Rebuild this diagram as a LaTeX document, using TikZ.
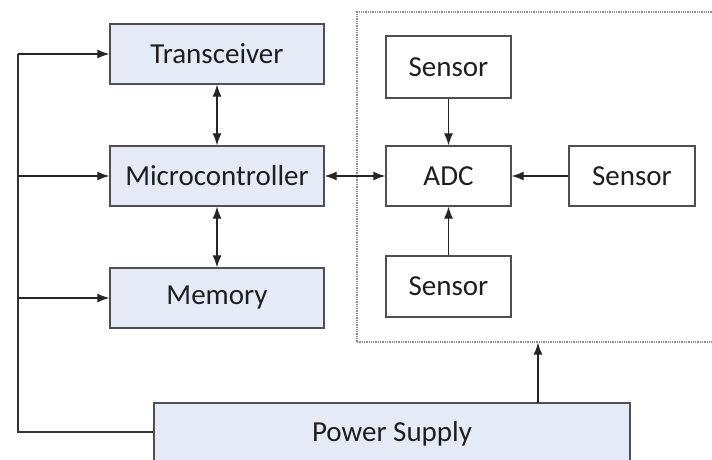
\documentclass[tikz,border=0pt]{standalone}
\usepackage{fontspec}
\setmainfont{Carlito}
\usetikzlibrary{arrows.meta}
\definecolor{boxfill}{RGB}{229,235,246}
\definecolor{boxline}{RGB}{80,80,80}
\definecolor{txt}{RGB}{30,30,30}
\tikzset{
  blk/.style={draw=boxline, line width=1.3pt, fill=boxfill, inner sep=0pt, text=txt,
    font=\fontsize{29}{34}\selectfont},
  sens/.style={blk, fill=white},
  conn/.style={draw=black!85, line width=1.2pt, -{Latex[length=12pt,width=9pt]}},
  biconn/.style={draw=black!85, line width=1.2pt, {Latex[length=12pt,width=9pt]}-{Latex[length=12pt,width=9pt]}},
  plain/.style={draw=black!80, line width=1.4pt},
  group/.style={draw=black!45, line width=1.3pt, densely dotted}
}
\begin{document}
\begin{tikzpicture}[x=1pt,y=-1pt]
\clip (0,0) rectangle (712,460);
\fill[white] (0,0) rectangle (712,460);
% dashed group
\node[group, minimum width=370pt, minimum height=330pt, inner sep=0pt] (grp) at (542,177) {};
% left column
\node[blk, minimum width=214pt, minimum height=60pt] (trans) at (217,54) {Transceiver};
\node[blk, minimum width=214pt, minimum height=60pt] (micro) at (217,176) {Microcontroller};
\node[blk, minimum width=214pt, minimum height=60pt] (mem) at (217,298) {Memory};
\node[blk, minimum width=476pt, minimum height=62pt] (power) at (392,434) {};
\node[text=txt, font=\fontsize{29}{34}\selectfont, anchor=center] (ptext) at (392,434) {Power Supply};
% sensors
\node[sens, minimum width=125pt, minimum height=62pt] (stop) at (448.5,67) {Sensor};
\node[sens, minimum width=125pt, minimum height=60pt] (adc) at (448.5,176) {ADC};
\node[sens, minimum width=126pt, minimum height=60pt] (sright) at (632,176) {Sensor};
\node[sens, minimum width=125pt, minimum height=61pt] (sbot) at (448.5,286.5) {Sensor};
% bus
\coordinate (bt) at (18,54);
\coordinate (bm) at (18,176);
\coordinate (bmm) at (18,298);
\coordinate (bb) at (18,432);
\draw[plain] (bt) -- (bb) -- (power.west |- bb);
\draw[conn] (bt) -- (trans.west);
\draw[conn] (bm) -- (micro.west);
\draw[conn] (bmm) -- (mem.west);
% internal
\draw[biconn] (trans.south) -- (micro.north);
\draw[biconn] (micro.south) -- (mem.north);
\draw[biconn] (micro.east) -- (adc.west);
\draw[conn] (stop.south) -- (adc.north);
\draw[conn] (sright.west) -- (adc.east);
\draw[conn] (sbot.north) -- (adc.south);
\coordinate (pa) at (538,403);
\draw[conn] (pa) -- (pa |- grp.south);
\end{tikzpicture}
\end{document}
